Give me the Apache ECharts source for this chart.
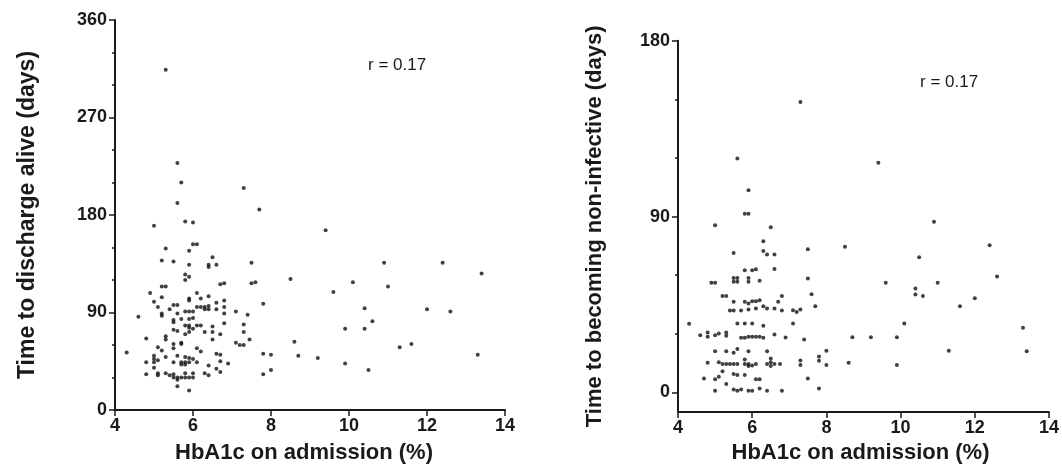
<!DOCTYPE html>
<html>
<head>
<meta charset="utf-8">
<script src="https://cdn.jsdelivr.net/npm/echarts@6/dist/echarts.min.js"></script>
<style>
html,body{margin:0;padding:0;background:#fff;}
#chart{width:1062px;height:469px;}
</style>
</head>
<body>
<div id="chart"></div>
<script>
// Left panel: HbA1c (%) vs time to discharge alive (days)
const dischargeHbA1c = [5.3,5.6,5.7,7.3,5.6,7.7,5.0,5.8,6.0,9.4,5.3,5.9,6.0,6.1,5.2,5.5,6.5,5.9,6.4,6.4,6.6,7.5,10.9,12.4,13.4,5.8,5.9,8.5,5.8,10.1,7.5,7.6,5.2,5.3,6.7,6.8,11.0,9.6,4.9,6.1,5.2,5.0,5.1,5.9,5.9,6.2,6.4,6.6,6.8,6.8,5.5,5.6,5.2,5.2,4.6,5.4,5.8,5.9,6.0,6.1,6.2,6.3,6.4,6.3,6.4,6.6,6.8,7.1,7.4,7.8,5.6,5.5,5.5,5.7,5.9,6.0,5.8,5.6,5.5,5.9,5.9,6.0,6.1,6.2,5.8,5.9,6.3,6.5,6.5,6.8,6.7,7.3,7.3,7.45,6.5,5.3,5.3,4.8,5.7,5.7,5.5,5.5,5.1,6.1,6.2,7.1,7.2,7.3,8.6,4.3,5.2,5.0,5.0,5.3,5.6,5.8,5.9,6.0,6.6,6.7,7.8,8.0,8.7,9.2,4.8,5.0,5.1,5.5,5.7,5.8,5.9,5.7,5.8,6.1,6.4,6.7,6.9,6.6,6.7,5.0,4.8,5.1,5.1,5.3,5.4,5.5,5.5,5.6,5.7,5.8,5.9,6.0,5.6,5.8,6.0,6.3,6.4,7.8,8.0,5.6,5.9,9.9,9.9,10.4,10.4,10.6,10.5,11.3,11.6,12.0,12.6,13.3];
const dischargeDays = [314,228,210,205,191,185,170,174,173,166,149,147,153,153,138,137,141,134,134,132,134,136,136,136,126,125,123,121,120,118,117,118,114,114,116,117,114,109,108,108,104,100,95,103,101,103,105,99,101,95,97,97,89,87,86,93,91,91,91,95,95,95,96,93,93,93,89,91,88,98,89,83,81,84,84,85,78,73,74,78,76,75,78,78,70,72,72,77,72,80,70,79,72,65,65,68,65,66,62,61,61,57,58,57,54,62,60,60,63,53,55,50,47,49,50,49,48,47,52,51,52,51,50,48,44,44,46,44,44,44,44,42,42,44,41,45,43,38,35,39,33,34,32,34,32,33,30,30,30,30,30,30,28,34,34,34,32,33,37,22,18,75,43,94,75,82,37,58,61,93,91,51];

// Right panel: HbA1c (%) vs time to becoming non-infective (days)
const infectiveHbA1c = [7.3,5.6,9.4,5.9,5.8,5.9,10.9,5.0,6.5,6.3,5.5,6.3,6.4,6.6,7.5,8.5,12.4,10.5,6.6,5.8,6.0,6.1,5.5,5.6,5.5,5.6,5.9,5.9,6.2,4.9,5.0,7.5,9.6,11.0,12.6,5.2,5.3,6.8,7.6,10.4,10.4,10.6,12.0,5.5,5.8,5.9,6.0,6.1,6.2,6.3,6.7,7.7,11.6,5.4,5.5,5.7,5.9,6.1,6.4,6.6,6.8,7.1,7.2,7.3,4.3,5.6,5.8,6.0,6.3,7.1,10.1,13.3,4.6,4.8,4.8,5.0,5.1,5.3,5.3,5.7,5.8,5.9,6.0,6.1,6.2,6.3,6.6,6.9,7.4,8.7,9.2,9.9,5.0,5.3,5.5,5.6,5.9,6.4,8.0,11.3,13.4,4.8,5.1,5.2,5.3,5.4,5.5,5.6,5.8,5.9,6.0,6.1,6.4,6.5,6.6,6.75,5.8,5.9,6.5,6.5,7.8,7.8,7.3,7.3,8.0,8.6,9.9,5.2,5.5,5.6,5.8,5.1,5.0,4.7,6.1,6.2,5.3,7.5,5.0,5.5,5.6,5.7,5.9,6.0,6.2,6.4,6.8,7.8];
const infectiveDays = [148.6,119.7,117.6,103.5,91.5,91.5,87.4,85.5,84.5,77.4,71.4,72.4,70.6,70.6,73.3,74.5,75.3,69.2,63.2,62.5,62.5,63,58.6,58.6,56.6,56.6,58.6,56.6,57.1,56.2,56.2,58.3,56.2,56.2,59.3,49.3,49.3,49.3,50.3,53.2,50.1,49.3,48.2,46.4,46.4,45.5,46.7,46.7,47.2,44.1,46.4,44.1,44.1,42,42,42,42.5,43,43,43,42,42.1,41.2,42.4,35.1,35.3,35.3,35.3,34.1,35.3,35.3,33.1,29.3,30.7,28.5,29.3,30.2,30.7,29,28,28,28.5,28.5,28.5,28.5,28,29.6,28.1,27.1,28.3,28.3,28.3,21.1,21.1,20.3,22.2,21.1,21.1,21.3,21.3,21.1,15.2,15.5,14.5,14.5,14.5,14.5,14.5,14.5,14.5,13.8,14.5,14.5,15.5,14.5,14.5,16.9,13.5,17.4,13.6,18.4,16.2,16.4,14.1,14.1,15.2,14.1,10.9,9.5,8.9,8.9,8,6.8,7.2,6.8,6.8,4.3,7.2,0.9,1.5,0.9,1.5,0.9,0.9,2.0,0.9,0.9,2.0];

const xTicks = [4, 6, 8, 10, 12, 14];
const leftYLabels = [0, 90, 180, 270, 360];
const rightYLabels = [0, 90, 180];
const rightYMinor = [30, 60, 120, 150];
const rText = 'r = 0.17';
const xTitle = 'HbA1c on admission (%)';
const leftYTitle = 'Time to discharge alive (days)';
const rightYTitle = 'Time to becoming non-infective (days)';

const FONT = '"Liberation Sans", Arial, sans-serif';
const INK = '#1a1a1a';

const pairs = (xs, ys) => xs.map((x, i) => [x, ys[i]]);

const axisLine = { show: true, onZero: false, lineStyle: { color: INK, width: 2 } };
const tickLabel = { color: INK, fontFamily: FONT, fontWeight: 'bold', fontSize: 18 };
const titleStyle = { color: INK, fontFamily: FONT, fontWeight: 'bold', fontSize: 22 };

function xAxisFor(gridIndex, gap, shift) {
  return {
    type: 'value', gridIndex, min: xTicks[0], max: xTicks[xTicks.length - 1],
    interval: xTicks[1] - xTicks[0],
    axisLine, splitLine: { show: false },
    axisTick: { show: true, length: 6, lineStyle: { color: INK, width: 1.5 } },
    axisLabel: Object.assign({ margin: 7 }, tickLabel),
    name: xTitle, nameLocation: 'middle', nameGap: gap,
    nameTextStyle: Object.assign({}, titleStyle, { padding: [0, shift, 0, 0] })
  };
}

const chart = echarts.init(document.getElementById('chart'), null, { renderer: 'canvas' });
chart.setOption({
  animation: false,
  backgroundColor: '#fff',
  grid: [
    { left: 115, top: 20, width: 390, height: 391.7 },
    { left: 678, top: 40.7, width: 372, height: 372.9 }
  ],
  xAxis: [xAxisFor(0, 32, 12), xAxisFor(1, 30, 6)],
  yAxis: [
    {
      type: 'value', gridIndex: 0, position: 'left', min: leftYLabels[0], max: leftYLabels[leftYLabels.length - 1],
      interval: leftYLabels[1] - leftYLabels[0],
      axisLine, splitLine: { show: false },
      axisTick: { show: true, length: 6, lineStyle: { color: INK, width: 1.5 } },
      minorTick: { show: true, splitNumber: 3, length: 3, lineStyle: { color: INK, width: 1.5 } },
      minorSplitLine: { show: false },
      axisLabel: Object.assign({ margin: 8 }, tickLabel),
      name: leftYTitle, nameLocation: 'middle', nameGap: 76, nameTextStyle: Object.assign({}, titleStyle, { fontSize: 23 })
    },
    {
      type: 'value', gridIndex: 1, position: 'left', min: -10, max: 180,
      axisLine, splitLine: { show: false },
      axisTick: { show: true, length: 6, customValues: rightYLabels, lineStyle: { color: INK, width: 1.5 } },
      axisLabel: Object.assign({ margin: 8, customValues: rightYLabels }, tickLabel),
      name: rightYTitle, nameLocation: 'middle', nameGap: 72, nameTextStyle: titleStyle
    },
    {
      type: 'value', gridIndex: 1, position: 'left', offset: 0, min: -10, max: 180,
      axisLine: { show: false }, splitLine: { show: false },
      axisTick: { show: true, length: 3, customValues: rightYMinor, lineStyle: { color: INK, width: 1.5 } },
      axisLabel: { show: false }
    }
  ],
  series: [
    {
      type: 'scatter', xAxisIndex: 0, yAxisIndex: 0,
      data: pairs(dischargeHbA1c, dischargeDays),
      symbol: 'circle', symbolSize: 4, itemStyle: { color: '#111' }
    },
    {
      type: 'scatter', xAxisIndex: 1, yAxisIndex: 1,
      data: pairs(infectiveHbA1c, infectiveDays),
      symbol: 'circle', symbolSize: 4, itemStyle: { color: '#111' }
    }
  ],
  graphic: [
    { type: 'text', left: 368, top: 57, style: { text: rText, fill: INK, font: '17px ' + FONT } },
    { type: 'text', left: 920, top: 74, style: { text: rText, fill: INK, font: '17px ' + FONT } }
  ]
});
</script>
</body>
</html>
